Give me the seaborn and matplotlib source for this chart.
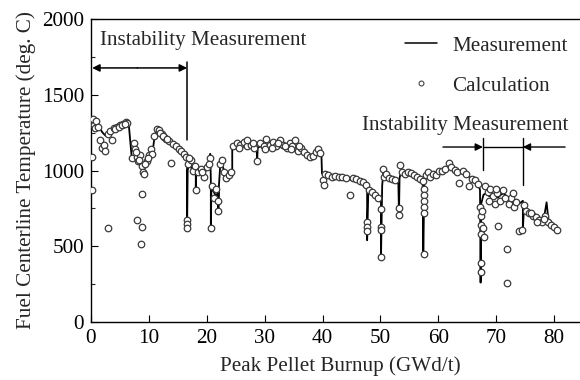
import numpy as np
import pandas as pd
import matplotlib
matplotlib.use("Agg")
import matplotlib.pyplot as plt
from matplotlib.lines import Line2D
from matplotlib.ticker import MultipleLocator
import seaborn as sns

# ---------------- data ----------------
meas_x = [0.2, 0.6, 1.0, 1.5, 2.0, 2.5, 3.0, 3.5, 4.0, 4.5, 5.0, 5.5, 6.0, 6.5,
          7.0, 7.5, 8.0, 8.5, 9.0, 9.3, 9.7, 10.2, 10.6, 11.0, 11.4, 11.8, 12.3,
          12.8, 13.3, 13.8, 14.3, 14.8, 15.3, 15.8, 16.3, 16.6, 16.6, 16.7, 17.0,
          17.4, 17.8, 18.1, 18.1, 18.2, 18.6, 19.0, 19.5, 20.0, 20.4, 20.6, 20.7,
          20.7, 20.8, 21.2, 21.6, 22.0, 22.0, 22.1, 22.4, 22.8, 23.2, 23.6, 24.0,
          24.4, 24.4, 25.0, 25.5, 26.0, 26.5, 27.0, 27.5, 28.0, 28.6, 28.7, 28.8,
          29.3, 30.0, 30.5, 31.0, 31.5, 32.0, 32.5, 33.0, 33.5, 34.0, 34.5, 35.0,
          35.5, 36.0, 36.5, 37.0, 37.5, 38.0, 38.5, 39.0, 39.3, 39.8, 39.9, 40.3,
          41.0, 41.5, 42.0, 42.5, 43.0, 43.5, 44.0, 44.5, 45.0, 45.5, 46.0, 46.5,
          47.0, 47.5, 47.7, 47.7, 47.9, 48.3, 48.8, 49.3, 49.8, 50.1, 50.1, 50.3,
          50.5, 50.8, 51.3, 51.8, 52.3, 52.8, 53.1, 53.2, 53.3, 53.6, 54.0, 54.5,
          55.0, 55.5, 56.0, 56.5, 57.0, 57.3, 57.4, 57.6, 58.0, 58.5, 59.0, 59.5,
          60.0, 60.5, 61.0, 61.5, 62.0, 62.5, 63.0, 63.5, 64.0, 64.5, 65.0, 65.5,
          66.0, 66.5, 67.0, 67.2, 67.3, 67.4, 67.8, 68.3, 68.8, 69.3, 69.8, 70.3,
          70.8, 71.3, 71.8, 72.3, 72.8, 73.3, 73.8, 74.3, 74.6, 74.6, 74.8, 75.3,
          75.8, 76.3, 76.8, 77.3, 77.8, 78.3, 78.7, 79.0, 79.5, 80.0, 80.5]
meas_y = [1290, 1330, 1300, 1280, 1250, 1230, 1250, 1270, 1285, 1295, 1305, 1315, 1320, 1315,
          1100, 1090, 1070, 1040, 990, 1030, 1080, 1120, 1110, 1230, 1275, 1260, 1235,
          1210, 1200, 1185, 1180, 1160, 1140, 1120, 1100, 1080, 610, 1000, 1060,
          1010, 1040, 1000, 880, 1020, 1000, 1020, 980, 1010, 1060, 1110, 940,
          620, 880, 860, 830, 860, 730, 900, 1080, 1020, 980, 960, 980,
          1000, 1150, 1160, 1150, 1160, 1170, 1150, 1160, 1145, 1160, 1060, 1150,
          1160, 1150, 1170, 1150, 1160, 1140, 1160, 1150, 1140, 1150, 1155, 1140,
          1120, 1130, 1110, 1100, 1090, 1080, 1090, 1120, 1130, 1110, 980, 970,
          960, 950, 960, 955, 945, 950, 940, 945, 935, 940, 935, 920,
          915, 900, 880, 540, 870, 860, 850, 830, 810, 790, 430, 900,
          990, 960, 950, 940, 935, 930, 910, 700, 950, 1000, 980, 970,
          985, 975, 960, 950, 935, 920, 450, 960, 980, 970, 975, 965,
          985, 990, 1000, 1010, 1020, 1010, 1000, 990, 995, 985, 970, 955,
          940, 930, 900, 870, 260, 780, 840, 850, 830, 850, 840, 820,
          840, 850, 830, 800, 790, 800, 780, 790, 800, 610, 760, 720,
          700, 700, 690, 680, 670, 700, 790, 680, 660, 640, 620]

calc_x = [0.2, 0.2, 0.4, 0.5, 0.7, 0.9, 1.2, 1.6, 1.9, 2.2, 2.5, 2.9, 3.0, 3.3, 3.6, 4.0,
          4.5, 5.0, 5.5, 6.0, 6.3, 4.2, 4.8, 5.3, 5.8,
          7.1, 7.4, 7.6, 7.9, 8.2, 8.5, 8.8, 9.0, 9.2, 7.9, 8.8, 8.6, 8.8, 9.6, 10.0,
          10.3, 10.6, 10.9, 9.4, 7.8, 8.3, 9.9,
          11.4, 11.8, 12.2, 12.6, 13.0, 13.4, 13.8, 14.2, 14.7, 15.2, 15.6, 16.0, 16.4,
          16.6, 16.6, 16.6, 12.0, 12.4, 13.2,
          16.8, 17.2, 17.6, 18.0, 18.1, 18.5, 19.0, 19.5, 20.0, 20.5, 20.7, 20.9, 21.3,
          21.6, 22.0, 22.0, 22.3, 22.6, 23.0, 23.4, 23.8, 24.2, 17.0, 19.2, 20.3,
          24.6, 25.2, 25.8, 26.4, 27.0, 27.6, 28.2, 28.7, 29.2, 29.8, 30.3, 30.9, 31.5,
          32.0, 32.6, 33.2, 33.8, 34.3, 34.8, 35.3, 35.8, 36.3, 36.8, 37.3, 37.8, 38.3,
          38.8, 39.2, 39.6, 25.5, 26.9, 28.0, 30.0, 31.2, 32.3, 33.5, 34.5, 36.0,
          40.0, 40.2, 40.5, 41.0, 41.6, 42.2, 42.8, 43.4, 44.0, 44.7, 45.2, 45.8, 46.4,
          47.0, 47.5,
          47.7, 47.7, 47.7, 48.0, 48.5, 49.0, 49.5, 50.1, 50.1, 50.1, 50.1, 50.4, 50.6,
          51.0, 51.5, 52.0, 52.6, 53.2, 53.2, 53.4, 53.8, 54.3, 54.8, 55.3, 55.8, 56.3,
          56.8, 57.3,
          57.5, 57.5, 57.5, 57.5, 57.5, 57.5, 57.8, 58.2, 58.6, 59.1, 59.6, 60.2, 60.7,
          61.2, 61.8, 62.2, 62.8, 63.3, 63.6, 64.2, 64.8, 65.3, 65.8, 66.3, 66.8,
          67.2, 67.3, 67.3, 67.3, 67.3, 67.3, 67.6, 67.8, 67.9, 68.0, 68.5, 69.0, 69.5,
          69.8, 70.2, 70.3, 70.7, 71.2, 71.8, 71.8, 72.2, 72.6, 73.0, 73.5, 74.0, 74.4,
          74.8, 75.2, 75.7, 76.3, 76.9, 77.4, 77.9, 78.5, 79.0, 79.5, 80.0, 80.5,
          68.7, 70.0, 71.5, 72.9, 76.0, 77.1, 78.2]
calc_y = [870, 1090, 1340, 1300, 1280, 1330, 1290, 1200, 1150, 1170, 1130, 1240, 620, 1260, 1200, 1280,
          1290, 1300, 1310, 1320, 1315, 1275, 1290, 1300, 1310,
          1080, 1180, 1140, 1090, 1060, 1100, 1030, 990, 975, 670, 625, 515, 845, 1060, 1100,
          1140, 1110, 1230, 1040, 1120, 1070, 1080,
          1275, 1265, 1240, 1220, 1205, 1195, 1050, 1175, 1165, 1140, 1130, 1110, 1090,
          670, 645, 620, 1250, 1225, 1210,
          1040, 1070, 1000, 1030, 870, 990, 1010, 960, 1020, 1080, 620, 900, 820,
          880, 730, 800, 1040, 1070, 990, 950, 970, 990, 1080, 990, 1040,
          1160, 1180, 1170, 1190, 1160, 1170, 1150, 1060, 1180, 1165, 1210, 1170, 1190,
          1160, 1200, 1170, 1150, 1180, 1160, 1200, 1130, 1150, 1120, 1100, 1090, 1095,
          1120, 1140, 1115, 1150, 1200, 1180, 1140, 1150, 1180, 1160, 1140, 1160,
          940, 905, 980, 970, 960, 965, 955, 960, 950, 838, 950, 945, 930,
          925, 905,
          660, 630, 600, 870, 860, 840, 820, 745, 627, 605, 430, 1010, 960,
          980, 950, 945, 940, 750, 705, 1035, 990, 980, 990, 985, 970, 960,
          945, 930,
          880, 840, 800, 760, 720, 450, 970, 990, 960, 980, 970, 995, 1000,
          1010, 1050, 1020, 1005, 990, 920, 1000, 980, 900, 945, 935, 910,
          760, 700, 640, 580, 390, 330, 730, 620, 560, 900, 860, 880, 830,
          780, 850, 634, 800, 870, 482, 257, 780, 820, 760, 790, 600, 610,
          770, 730, 720, 700, 690, 670, 660, 700, 660, 640, 630, 610,
          800, 880, 820, 850, 720, 660, 680]

x_ticks = [0, 10, 20, 30, 40, 50, 60, 70, 80]
y_ticks = [0, 500, 1000, 1500, 2000]

meas = pd.DataFrame({"burnup": meas_x, "temp": meas_y})
calc = pd.DataFrame({"burnup": calc_x, "temp": calc_y})

# ---------------- style ----------------
sns.set_theme(style="ticks")
plt.rcParams["font.family"] = ["Liberation Serif", "DejaVu Serif"]
FS = 15.2

fig = plt.figure(figsize=(5.8, 3.8), dpi=100)
ax = fig.add_axes([91 / 580, 58 / 380, 521 / 580, 303 / 380])

sns.lineplot(data=meas, x="burnup", y="temp", ax=ax, sort=False, estimator=None,
             color="black", linewidth=1.3, zorder=2)
sns.scatterplot(data=calc, x="burnup", y="temp", ax=ax, marker="o", s=22,
                facecolor="white", edgecolor="#3a3a3a", linewidth=0.9, zorder=3)

ax.set_xlim(0, 90)
ax.set_ylim(0, 2000)
ax.set_xticks(x_ticks)
ax.set_yticks(y_ticks)
ax.yaxis.set_minor_locator(MultipleLocator(250))
ax.tick_params(axis="both", which="major", direction="in", length=5, width=0.8,
               labelsize=FS, colors="black", pad=5)
ax.tick_params(axis="y", which="minor", direction="in", length=3, width=0.8)
for s in ax.spines.values():
    s.set_color("black")
    s.set_linewidth(1.0)

ax.set_xlabel("Peak Pellet Burnup (GWd/t)", fontsize=FS, labelpad=4)
ax.xaxis.set_label_coords((340 - 91) / 521, -0.112)
ax.xaxis.label.set_va("top")
ax.set_ylabel("Fuel Centerline Temperature (deg. C)", fontsize=FS, labelpad=4)

# annotations
ax.text(1.5, 1860, "Instability Measurement", fontsize=FS, va="center", ha="left")
ax.annotate("", xy=(0.2, 1677), xytext=(8, 1677),
            arrowprops=dict(arrowstyle="-|>", color="black", lw=1.1, mutation_scale=11,
                            shrinkA=0, shrinkB=0))
ax.annotate("", xy=(16.6, 1677), xytext=(8, 1677),
            arrowprops=dict(arrowstyle="-|>", color="black", lw=1.1, mutation_scale=11,
                            shrinkA=0, shrinkB=0))
ax.plot([16.6, 16.6], [1200, 1716], color="black", lw=1.1)

ax.text(46.8, 1300, "Instability Measurement", fontsize=FS, va="center", ha="left")
ax.annotate("", xy=(67.7, 1155), xytext=(60.8, 1155),
            arrowprops=dict(arrowstyle="-|>", color="black", lw=1.0, mutation_scale=11,
                            shrinkA=0, shrinkB=0))
ax.annotate("", xy=(74.6, 1155), xytext=(81.9, 1155),
            arrowprops=dict(arrowstyle="-|>", color="black", lw=1.0, mutation_scale=11,
                            shrinkA=0, shrinkB=0))
ax.plot([67.7, 67.7], [1003, 1215], color="black", lw=1.0)
ax.plot([67.7, 74.6], [1155, 1155], color="black", lw=1.0)
ax.plot([74.6, 74.6], [904, 1215], color="black", lw=1.0)

handles = [Line2D([], [], color="black", lw=1.1),
           Line2D([], [], color="none", marker="o", markersize=3.5, markerfacecolor="white",
                  markeredgecolor="#444444", markeredgewidth=0.8)]
ax.legend(handles, ["Measurement", "Calculation"], loc="upper left",
          bbox_to_anchor=(405 / 580, 1 - 36 / 380), bbox_transform=fig.transFigure,
          frameon=False, fontsize=FS, handlelength=1.5, handletextpad=0.75,
          labelspacing=0.95, borderpad=0, borderaxespad=0)

fig.savefig("out.png", dpi=100)
